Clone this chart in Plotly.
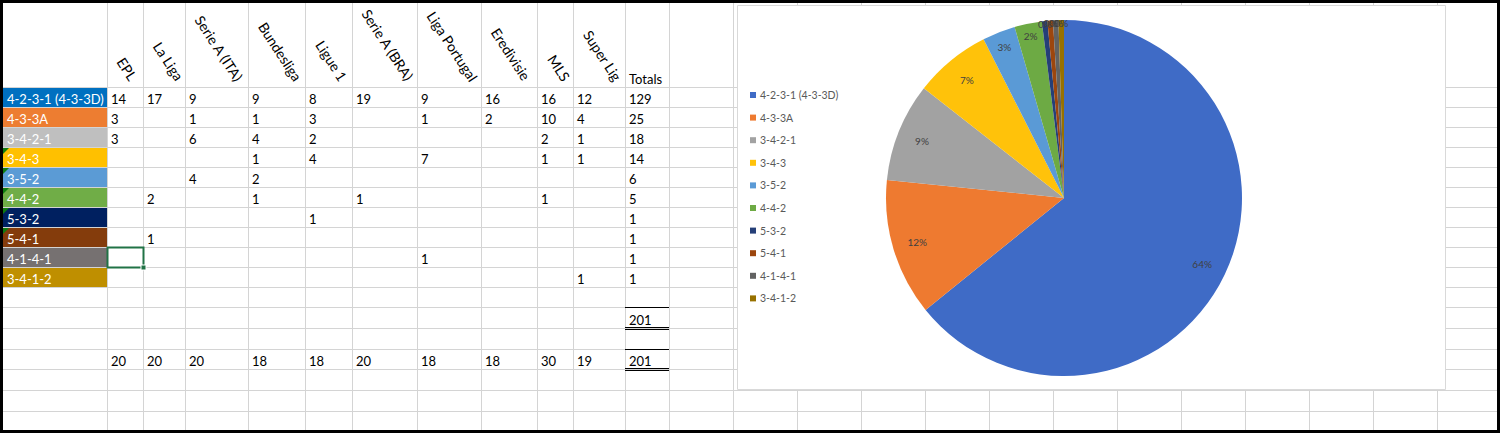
import plotly.graph_objects as go

# Formation usage by league (blank cell = None)
formations = ["4-2-3-1 (4-3-3D)", "4-3-3A", "3-4-2-1", "3-4-3", "3-5-2",
              "4-4-2", "5-3-2", "5-4-1", "4-1-4-1", "3-4-1-2"]
leagues = ["EPL", "La Liga", "Serie A (ITA)", "Bundesliga", "Ligue 1",
           "Serie A (BRA)", "Liga Portugal", "Eredivisie", "MLS", "Super Lig"]
counts = [
    [14, 17, 9, 9, 8, 19, 9, 16, 16, 12],
    [3, None, 1, 1, 3, None, 1, 2, 10, 4],
    [3, None, 6, 4, 2, None, None, None, 2, 1],
    [None, None, None, 1, 4, None, 7, None, 1, 1],
    [None, None, 4, 2, None, None, None, None, None, None],
    [None, 2, None, 1, None, 1, None, None, 1, None],
    [None, None, None, None, 1, None, None, None, None, None],
    [None, 1, None, None, None, None, None, None, None, None],
    [None, None, None, None, None, None, 1, None, None, None],
    [None, None, None, None, None, None, None, None, None, 1],
]
totals = [129, 25, 18, 14, 6, 5, 1, 1, 1, 1]
teams_per_league = [20, 20, 20, 18, 18, 20, 18, 18, 30, 19]
grand_total = 201

# cell fills of the row labels, and the pie colours
label_fills = ["#0070C0", "#ED7D31", "#BFBFBF", "#FFC000", "#5B9BD5",
               "#70AD47", "#002060", "#843C0C", "#767171", "#BF8F00"]
pie_colors = ["#3F6BC6", "#EE7A30", "#A2A2A2", "#FFC20A", "#5A9AD6",
              "#6DAA44", "#253F78", "#9C460E", "#626262", "#977100"]

# sheet geometry (pixels)
W, H = 1500, 433
col_edges = [3, 107, 143, 185, 248, 305, 352, 417, 481, 537, 573, 625, 669, 733,
             797, 861, 925, 989, 1053, 1117, 1181, 1245, 1309, 1373, 1437]
row_edges = [87, 107, 127, 147, 167, 187, 207, 227, 247, 267, 287, 307, 328,
             349, 369, 390, 411]
chart_box = (737, 5, 1445, 389)
grid = "#D4D4D4"
font = "Lato"
fs = 13

shapes = []
annotations = []

# gridlines (half-pixel offsets keep them crisp)
for x in col_edges[1:]:
    shapes.append(dict(type="line", x0=x + 0.5, x1=x + 0.5, y0=0, y1=H,
                       line=dict(color=grid, width=1)))
for y in row_edges:
    shapes.append(dict(type="line", x0=0, x1=W, y0=y + 0.5, y1=y + 0.5,
                       line=dict(color=grid, width=1)))

# row label cells
for i, name in enumerate(formations):
    y0, y1 = row_edges[i], row_edges[i + 1]
    shapes.append(dict(type="rect", x0=3, x1=col_edges[1], y0=y0 + 1, y1=y1,
                       fillcolor=label_fills[i], line=dict(width=0)))
    annotations.append(dict(x=5, y=(y0 + y1) / 2 + 2, text=name, showarrow=False,
                            xanchor="left", yanchor="middle",
                            font=dict(family=font, size=fs, color="white")))
    if 3 <= i <= 7:
        shapes.append(dict(type="path", path=f"M 3 {y0 + 1} L 9 {y0 + 1} L 3 {y0 + 7} Z",
                           fillcolor="#107C10", line=dict(width=0)))

# rotated league headers
for j, lg in enumerate(leagues):
    annotations.append(dict(x=col_edges[j + 1] + 4, y=row_edges[0], text=lg,
                            showarrow=False, textangle=57, xanchor="left", yanchor="bottom",
                            font=dict(family=font, size=14, color="black")))
annotations.append(dict(x=col_edges[11] + 2, y=row_edges[0] - 8,
                        text="Totals", showarrow=False, xanchor="left", yanchor="middle",
                        font=dict(family=font, size=fs, color="black")))

# body values and totals
for i, row in enumerate(counts):
    yc = (row_edges[i] + row_edges[i + 1]) / 2 + 2
    for j, v in enumerate(row):
        if v is None:
            continue
        annotations.append(dict(x=col_edges[j + 1] + 2, y=yc, text=str(v), showarrow=False,
                                xanchor="left", yanchor="middle",
                                font=dict(family=font, size=fs, color="black")))
    annotations.append(dict(x=col_edges[11] + 2, y=yc, text=str(totals[i]), showarrow=False,
                            xanchor="left", yanchor="middle",
                            font=dict(family=font, size=fs, color="black")))

# grand total rows: single top border, double bottom border
for r in (12, 14):
    y0, y1 = row_edges[r - 1], row_edges[r]
    yc = (y0 + y1) / 2 + 2
    shapes.append(dict(type="line", x0=col_edges[11], x1=col_edges[12],
                       y0=y0 + 0.5, y1=y0 + 0.5, line=dict(color="black", width=1)))
    for dy in (0, 2):
        shapes.append(dict(type="line", x0=col_edges[11], x1=col_edges[12],
                           y0=y1 + dy - 0.5, y1=y1 + dy - 0.5,
                           line=dict(color="black", width=1)))
    annotations.append(dict(x=col_edges[11] + 2, y=yc, text=str(grand_total), showarrow=False,
                            xanchor="left", yanchor="middle",
                            font=dict(family=font, size=fs, color="black")))
yc = (row_edges[13] + row_edges[14]) / 2 + 2
for j, v in enumerate(teams_per_league):
    annotations.append(dict(x=col_edges[j + 1] + 2, y=yc, text=str(v), showarrow=False,
                            xanchor="left", yanchor="middle",
                            font=dict(family=font, size=fs, color="black")))

# selected cell
sel_y0, sel_y1 = row_edges[8], row_edges[9]
shapes.append(dict(type="rect", x0=col_edges[1] + 0.5, x1=col_edges[2] + 0.5,
                   y0=sel_y0 + 0.5, y1=sel_y1 + 0.5, line=dict(color="#217346", width=2)))
shapes.append(dict(type="rect", x0=col_edges[2] - 2, x1=col_edges[2] + 3,
                   y0=sel_y1 - 2, y1=sel_y1 + 3, fillcolor="#217346",
                   line=dict(color="white", width=1)))

# chart area
cx0, cy0, cx1, cy1 = chart_box
shapes.append(dict(type="rect", x0=cx0 + 0.5, x1=cx1 + 0.5, y0=cy0 + 0.5, y1=cy1 + 0.5,
                   fillcolor="white", line=dict(color="#D9D9D9", width=1)))

# outer frame
shapes.append(dict(type="rect", x0=1.5, x1=W - 1.5, y0=1.5, y1=H - 1.5,
                   line=dict(color="black", width=3)))

fig = go.Figure()

pie_domain = dict(x=[885 / W, 1243 / W], y=[1 - 376 / H, 1 - 20 / H])

# pie of formation totals
fig.add_trace(go.Pie(
    labels=formations, values=totals, sort=False, direction="clockwise", rotation=0,
    marker=dict(colors=pie_colors, line=dict(width=0)),
    textinfo="none", domain=pie_domain, showlegend=False,
))
# transparent ring on top carries the percent labels near the rim
fig.add_trace(go.Pie(
    labels=formations, values=totals, sort=False, direction="clockwise", rotation=0,
    hole=0.72, marker=dict(colors=["rgba(0,0,0,0)"] * len(totals), line=dict(width=0)),
    texttemplate="%{percent:.0%}", textposition="inside",
    insidetextorientation="horizontal",
    textfont=dict(family=font, size=10, color="#404040"),
    domain=pie_domain, showlegend=False, hoverinfo="skip",
))

# legend drawn as a marker column
leg_y = [95 + 22.6 * i for i in range(len(formations))]
fig.add_trace(go.Scatter(
    x=[753] * len(formations), y=leg_y, mode="markers",
    marker=dict(symbol="square", size=6, color=pie_colors, line=dict(width=0)),
    hoverinfo="skip", showlegend=False,
))
for i, name in enumerate(formations):
    annotations.append(dict(x=758, y=leg_y[i], text=name, showarrow=False,
                            xanchor="left", yanchor="middle",
                            font=dict(family=font, size=10.5, color="#595959")))

for s in shapes:
    s.setdefault("xref", "x")
    s.setdefault("yref", "y")
    s["layer"] = "below"
for a in annotations:
    a.setdefault("xref", "x")
    a.setdefault("yref", "y")

fig.update_layout(
    width=W, height=H, margin=dict(l=0, r=0, t=0, b=0),
    paper_bgcolor="white", plot_bgcolor="white",
    xaxis=dict(range=[0, W], visible=False, fixedrange=True),
    yaxis=dict(range=[H, 0], visible=False, fixedrange=True),
    uniformtext=dict(minsize=10, mode="show"),
    shapes=shapes, annotations=annotations,
)

fig.write_html("out.html", config={"displayModeBar": False},
               post_script="document.body.style.margin='0';")
